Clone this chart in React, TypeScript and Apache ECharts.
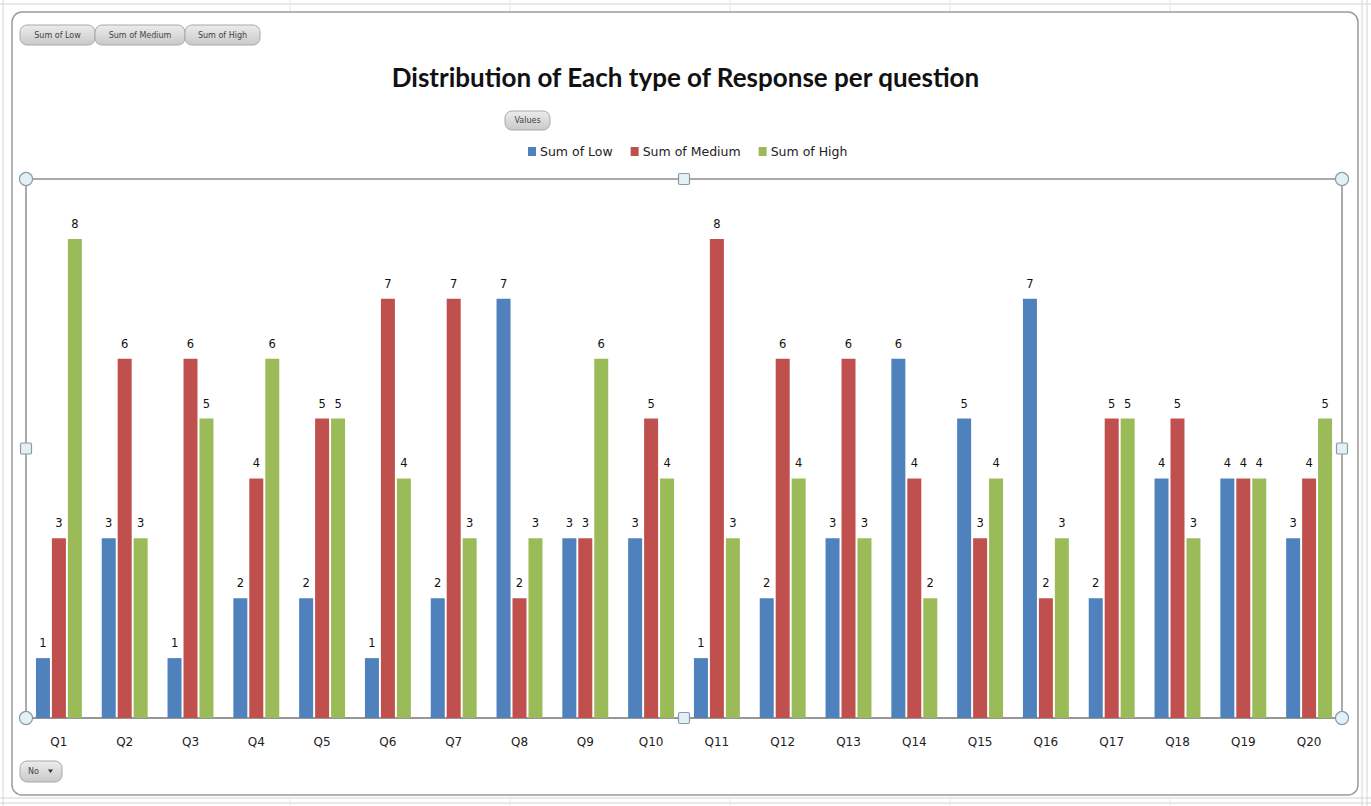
import React, { useEffect, useRef } from "react";
import * as echarts from "echarts";

const questions = ["Q1", "Q2", "Q3", "Q4", "Q5", "Q6", "Q7", "Q8", "Q9", "Q10", "Q11", "Q12", "Q13", "Q14", "Q15", "Q16", "Q17", "Q18", "Q19", "Q20"];
const sumOfLow = [1, 3, 1, 2, 2, 1, 2, 7, 3, 3, 1, 2, 3, 6, 5, 7, 2, 4, 4, 3];
const sumOfMedium = [3, 6, 6, 4, 5, 7, 7, 2, 3, 5, 8, 6, 6, 4, 3, 2, 5, 5, 4, 4];
const sumOfHigh = [8, 3, 5, 6, 5, 4, 3, 3, 6, 4, 3, 4, 3, 2, 4, 3, 5, 3, 4, 5];

const seriesNames = ["Sum of Low", "Sum of Medium", "Sum of High"];
const seriesColors = ["#4F81BD", "#C0504D", "#9BBB59"];

const W = 1371;
const H = 806;
const PLOT = { left: 26, top: 179, right: 1342, bottom: 718 };

function fieldButton(x: number, y: number, w: number, h: number, label: string, arrow = false) {
  const children: any[] = [
    {
      type: "rect",
      shape: { x, y, width: w, height: h, r: 7 },
      style: {
        fill: new echarts.graphic.LinearGradient(0, 0, 0, 1, [
          { offset: 0, color: "#ececec" },
          { offset: 1, color: "#c9c9c9" },
        ]),
        stroke: "#a9a9a9",
        lineWidth: 1,
      },
    },
    {
      type: "text",
      x: x + (arrow ? 8 : w / 2),
      y: y + h / 2,
      style: {
        text: label,
        fontSize: 8,
        fontFamily: "DejaVu Sans",
        fill: "#444",
        align: arrow ? "left" : "center",
        verticalAlign: "middle",
      },
    },
  ];
  if (arrow) {
    children.push({
      type: "polygon",
      shape: { points: [[x + w - 14, y + h / 2 - 2], [x + w - 9, y + h / 2 - 2], [x + w - 11.5, y + h / 2 + 1.5]] },
      style: { fill: "#333" },
    });
  }
  return { type: "group", children };
}

function handles() {
  const midX = (PLOT.left + PLOT.right) / 2;
  const midY = (PLOT.top + PLOT.bottom) / 2;
  const handleStyle = { fill: "#e3f1f7", stroke: "#8a9aa6", lineWidth: 1.2 };
  const circles = [
    [PLOT.left, PLOT.top],
    [PLOT.right, PLOT.top],
    [PLOT.left, PLOT.bottom],
    [PLOT.right, PLOT.bottom],
  ].map(([cx, cy]) => ({ type: "circle", shape: { cx, cy, r: 6.5 }, style: handleStyle, z: 100 }));
  const squares = [
    [midX, PLOT.top],
    [midX, PLOT.bottom],
    [PLOT.left, midY],
    [PLOT.right, midY],
  ].map(([cx, cy]) => ({
    type: "rect",
    shape: { x: cx - 5.5, y: cy - 5.5, width: 11, height: 11, r: 1.5 },
    style: handleStyle,
    z: 100,
  }));
  return [...circles, ...squares];
}

function sheetLines() {
  const stroke = "#d4d4d4";
  const lines: any[] = [];
  const hl = [4, 798, 803];
  hl.forEach((y) => lines.push({ type: "line", shape: { x1: 0, y1: y, x2: W, y2: y }, style: { stroke, lineWidth: 1 }, z: -10 }));
  const vl = [3, 1362, 1367];
  vl.forEach((x) => lines.push({ type: "line", shape: { x1: x, y1: 0, x2: x, y2: H }, style: { stroke, lineWidth: 1 }, z: -10 }));
  [290, 510, 730, 950, 1170].forEach((x) =>
    lines.push({ type: "line", shape: { x1: x, y1: 0, x2: x, y2: 11 }, style: { stroke: "#e6e6e6", lineWidth: 1 }, z: -10 })
  );
  [290, 510, 730, 950, 1170].forEach((x) =>
    lines.push({ type: "line", shape: { x1: x, y1: 797, x2: x, y2: H }, style: { stroke: "#e6e6e6", lineWidth: 1 }, z: -10 })
  );
  return lines;
}

export default function App() {
  const ref = useRef<HTMLDivElement>(null);

  useEffect(() => {
    if (!ref.current) return;
    const chart = echarts.init(ref.current, null, { renderer: "svg" });
    const values = [sumOfLow, sumOfMedium, sumOfHigh];

    chart.setOption({
      animation: false,
      backgroundColor: "#ffffff",
      title: {
        text: "Distribution of Each type of Response per question",
        left: "center",
        top: 59,
        textStyle: {
          fontFamily: "Lato",
          fontWeight: "bold",
          fontSize: 26,
          color: "#111",
        },
      },
      legend: {
        data: seriesNames,
        top: 140,
        left: 523,
        itemWidth: 8,
        itemHeight: 9,
        itemGap: 18,
        icon: "rect",
        textStyle: { fontFamily: "DejaVu Sans", fontSize: 12.5, color: "#222", padding: [0, 0, 0, -1] },
      },
      grid: {
        left: PLOT.left,
        top: PLOT.top,
        right: W - PLOT.right,
        bottom: H - PLOT.bottom,
        show: true,
        borderColor: "#8f8f8f",
        borderWidth: 1.5,
        backgroundColor: "transparent",
      },
      xAxis: {
        type: "category",
        data: questions,
        axisLine: { show: true, lineStyle: { color: "#8f8f8f", width: 1.5 } },
        axisTick: { show: false },
        axisLabel: { fontFamily: "DejaVu Sans", fontSize: 12, color: "#222", margin: 18 },
      },
      yAxis: {
        type: "value",
        min: 0,
        max: 9,
        interval: 1,
        show: false,
        splitLine: { show: false },
      },
      series: seriesNames.map((name, i) => ({
        name,
        type: "bar",
        data: values[i],
        barWidth: 14,
        barGap: "14%",
        itemStyle: { color: seriesColors[i] },
        label: {
          show: true,
          position: "top",
          distance: 9,
          fontFamily: "DejaVu Sans",
          fontSize: 11.5,
          color: "#111",
        },
      })),
      graphic: [
        ...sheetLines(),
        {
          type: "rect",
          shape: { x: 12, y: 12, width: 1346, height: 783, r: 10 },
          style: { fill: "none", stroke: "#9b9b9b", lineWidth: 1.5 },
          z: -5,
        },
        fieldButton(20, 25, 75, 20, "Sum of Low"),
        fieldButton(95, 25, 90, 20, "Sum of Medium"),
        fieldButton(185, 25, 75, 20, "Sum of High"),
        fieldButton(505, 111, 45, 19, "Values"),
        fieldButton(20, 761, 42, 21, "No", true),
        ...handles(),
      ],
    });

    return () => chart.dispose();
  }, []);

  return <div ref={ref} style={{ position: "fixed", left: 0, top: 0, width: W, height: H }} />;
}
